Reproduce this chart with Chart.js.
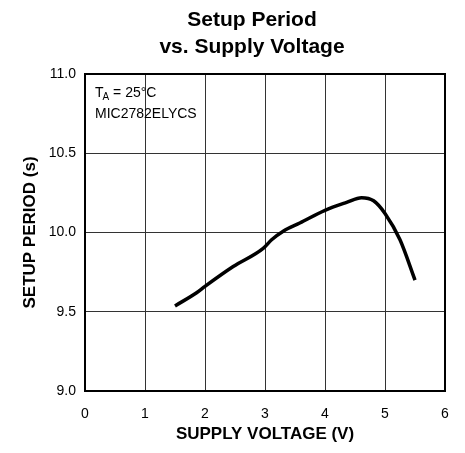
<!DOCTYPE html>
<html lang="en">
<head>
    <meta charset="UTF-8">
    <title>Setup Period vs. Supply Voltage</title>
    <script src="https://cdn.jsdelivr.net/npm/chart.js"></script>
    <style>
        body {
            margin: 0;
            padding: 0;
            background: #fff;
        }
        #chart {
            display: block;
        }
    </style>
</head>
<body>
<canvas id="chart" width="465" height="453"></canvas>
<script>
// supply voltage (V) and setup period (s)
const voltage = [1.5, 1.86, 2.0, 2.47, 2.97, 3.11, 3.31, 3.58, 4.0, 4.36, 4.61, 4.81, 5.0, 5.25, 5.5];
const period = [9.537, 9.62, 9.66, 9.785, 9.90, 9.954, 10.01, 10.06, 10.14, 10.19, 10.22, 10.20, 10.12, 9.954, 9.70];

const xTicks = [0, 1, 2, 3, 4, 5, 6];
const yTicks = [9.0, 9.5, 10.0, 10.5, 11.0];

const titleLines = ["Setup Period", "vs. Supply Voltage"];
const xTitle = "SUPPLY VOLTAGE (V)";
const yTitle = "SETUP PERIOD (s)";

const FONT = "'Liberation Sans', Arial, sans-serif";

// title, annotation and frame drawn on the canvas
const extras = {
    id: "extras",
    afterDraw(chart) {
        const ctx = chart.ctx;
        const area = chart.chartArea;
        ctx.save();

        // frame
        ctx.strokeStyle = "#000";
        ctx.lineWidth = 2;
        ctx.strokeRect(area.left, area.top, area.right - area.left, area.bottom - area.top);

        // title
        ctx.fillStyle = "#000";
        ctx.textAlign = "center";
        ctx.textBaseline = "alphabetic";
        ctx.font = "bold 21px " + FONT;
        ctx.fillText(titleLines[0], 252, 26);
        ctx.fillText(titleLines[1], 252, 53);

        // annotation
        ctx.textAlign = "left";
        ctx.font = "14px " + FONT;
        ctx.fillText("T", 95, 97);
        const tw = ctx.measureText("T").width;
        ctx.font = "10px " + FONT;
        ctx.fillText("A", 95 + tw - 1, 100);
        const aw = ctx.measureText("A").width;
        ctx.font = "14px " + FONT;
        ctx.fillText(" = 25°C", 95 + tw - 1 + aw, 97);
        ctx.fillText("MIC2782ELYCS", 95, 118);

        ctx.restore();
    }
};

new Chart(document.getElementById("chart"), {
    type: "line",
    data: {
        datasets: [{
            data: voltage.map((v, i) => ({ x: v, y: period[i] })),
            borderColor: "#000",
            borderWidth: 3.5,
            pointRadius: 0,
            tension: 0.4,
            cubicInterpolationMode: "monotone",
            fill: false
        }]
    },
    options: {
        responsive: false,
        animation: false,
        layout: {
            padding: { top: 74, right: 20, bottom: 0, left: 0 }
        },
        plugins: {
            legend: { display: false },
            tooltip: { enabled: false },
            title: { display: false }
        },
        scales: {
            x: {
                type: "linear",
                min: 0,
                max: 6,
                afterBuildTicks: (axis) => { axis.ticks = xTicks.map(v => ({ value: v })); },
                afterFit: (axis) => { axis.height = 62; },
                ticks: {
                    color: "#000",
                    padding: 15,
                    font: { family: FONT, size: 14 }
                },
                grid: { color: "#333", lineWidth: 1, drawTicks: false },
                border: { color: "#000", width: 2 },
                title: {
                    display: true,
                    text: xTitle,
                    color: "#000",
                    font: { family: FONT, size: 17, weight: "bold" },
                    padding: { top: 0, bottom: 8 }
                }
            },
            y: {
                type: "linear",
                min: 9.0,
                max: 11.0,
                afterBuildTicks: (axis) => { axis.ticks = yTicks.map(v => ({ value: v })); },
                afterFit: (axis) => { axis.width = 85; },
                ticks: {
                    color: "#000",
                    padding: 9,
                    font: { family: FONT, size: 14 },
                    callback: (v) => Number(v).toFixed(1)
                },
                grid: { color: "#333", lineWidth: 1, drawTicks: false },
                border: { color: "#000", width: 2 },
                title: {
                    display: true,
                    text: yTitle,
                    color: "#000",
                    font: { family: FONT, size: 17, weight: "bold" },
                    padding: { top: 20, bottom: 0 }
                }
            }
        }
    },
    plugins: [extras]
});
</script>
</body>
</html>
